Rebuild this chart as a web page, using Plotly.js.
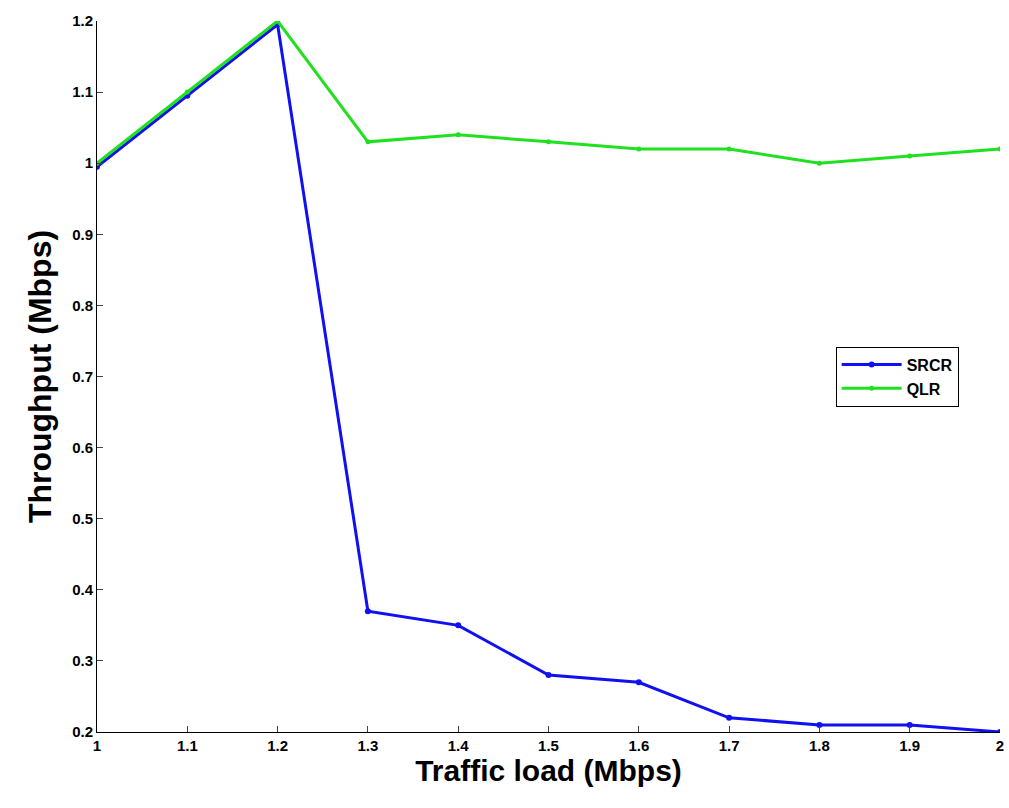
<!DOCTYPE html>
<html><head><script src="https://cdn.plot.ly/plotly-3.0.1.min.js"></script>
<style>body{margin:0;background:#fff}</style></head><body>
<div id="c" style="width:1009px;height:808px"></div>
<script>
const load=[1,1.1,1.2,1.3,1.4,1.5,1.6,1.7,1.8,1.9,2];
const srcr=[0.995,1.095,1.195,0.37,0.35,0.28,0.27,0.22,0.21,0.21,0.20];
const qlr=[1.0,1.1,1.2,1.03,1.04,1.03,1.02,1.02,1.0,1.01,1.02];
const F="Liberation Sans, Arial, sans-serif";
Plotly.newPlot('c',[
{x:load,y:srcr,name:'<b>SRCR</b>',mode:'lines+markers',line:{color:'#1010f0',width:3},marker:{size:6,color:'#1010f0'}},
{x:load,y:qlr,name:'<b>QLR</b>',mode:'lines+markers',line:{color:'#20e020',width:3},marker:{size:5,color:'#20e020'}}
],{
width:1009,height:808,margin:{l:97,r:9,t:21,b:76},
paper_bgcolor:'#fff',plot_bgcolor:'#fff',showlegend:true,
font:{family:F,color:'#000'},
legend:{x:0.818,y:0.542,xanchor:'left',yanchor:'top',bordercolor:'#000',borderwidth:1,itemwidth:60,tracegroupgap:0,font:{size:16,family:F}},
xaxis:{range:[1,2],tickvals:load,ticktext:load.map(v=>'<b>'+v+'</b>'),ticks:'inside',ticklen:6,showgrid:false,zeroline:false,showline:true,linecolor:'#000',linewidth:1,tickfont:{size:15},
 title:{text:'<b>Traffic load (Mbps)</b>',font:{size:30},standoff:5}},
yaxis:{range:[0.2,1.2],tickvals:[0.2,0.3,0.4,0.5,0.6,0.7,0.8,0.9,1,1.1,1.2],ticktext:['0.2','0.3','0.4','0.5','0.6','0.7','0.8','0.9','1','1.1','1.2'].map(s=>'<b>'+s+'</b>'),ticks:'inside',ticklen:6,showgrid:false,zeroline:false,showline:true,linecolor:'#000',linewidth:1,tickfont:{size:15},
 title:{text:'<b>Throughput (Mbps)</b>',font:{size:32},standoff:10}}
},{displayModeBar:false});
</script></body></html>
